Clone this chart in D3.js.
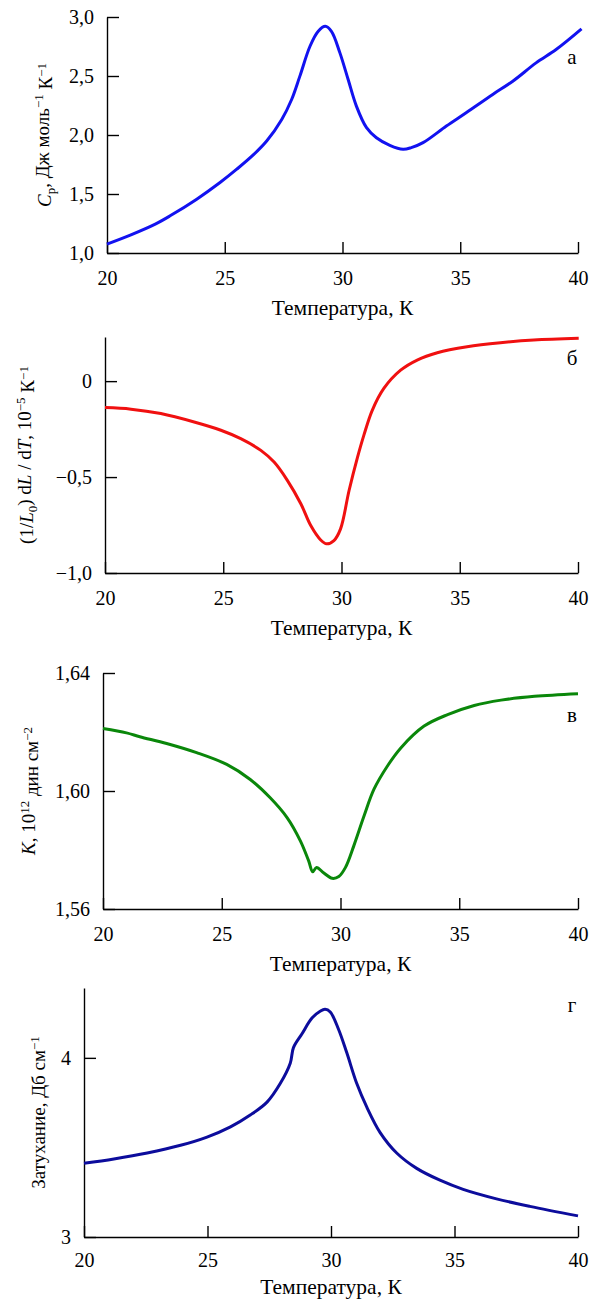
<!DOCTYPE html>
<html>
<head>
<meta charset="utf-8">
<script src="https://cdn.jsdelivr.net/npm/d3@7"></script>
<style>
  body { margin: 0; background: #fff; }
  svg { display: block; }
  svg text { font-family: "Liberation Serif", "Times New Roman", "DejaVu Serif", serif; fill: #000; }
  .axis path, .axis line { stroke: #000; stroke-width: 1.4; }
  .axis text { font-size: 20px; }
</style>
</head>
<body>
<svg id="chart" width="600" height="1302"></svg>
<script>
// temperature grid for each curve (K)
var tempA = [20, 20.99, 22.05, 22.68, 23.81, 24.8, 25.51, 26.21, 26.78, 27.42, 27.84, 28.19, 28.62, 28.97, 29.27, 29.53, 29.89, 30.24, 30.59, 31.02, 31.44, 32.01, 32.57, 32.92, 33.42, 34.41, 35.25, 36.38, 37.23, 38.22, 39.07, 40.15]
var heatCap = [1.076, 1.152, 1.245, 1.315, 1.456, 1.597, 1.71, 1.831, 1.949, 2.132, 2.301, 2.499, 2.752, 2.879, 2.921, 2.879, 2.696, 2.47, 2.245, 2.062, 1.977, 1.913, 1.879, 1.893, 1.935, 2.076, 2.189, 2.344, 2.456, 2.611, 2.724, 2.899]

var tempB = [20, 21.1, 22.36, 23.77, 24.9, 25.74, 26.59, 27.15, 27.71, 28.28, 28.7, 29.12, 29.37, 29.68, 29.96, 30.32, 30.67, 30.95, 31.3, 31.79, 32.5, 33.2, 34.05, 35.31, 36.72, 38.13, 40.03]
var expansion = [-0.138, -0.146, -0.169, -0.213, -0.256, -0.3, -0.361, -0.422, -0.517, -0.639, -0.753, -0.828, -0.848, -0.831, -0.77, -0.57, -0.4, -0.28, -0.152, -0.038, 0.057, 0.11, 0.148, 0.179, 0.2, 0.214, 0.223]

var tempC = [20, 20.99, 21.55, 22.68, 23.94, 25.21, 26.2, 27.04, 27.75, 28.31, 28.66, 28.83, 28.99, 29.3, 29.65, 29.93, 30.21, 30.56, 30.99, 31.41, 31.97, 32.54, 33.52, 34.51, 35.63, 36.76, 38.17, 40]
var modulus = [1.6212, 1.6197, 1.6184, 1.6161, 1.613, 1.609, 1.6039, 1.5977, 1.591, 1.5831, 1.5763, 1.5726, 1.5741, 1.5722, 1.5704, 1.571, 1.5741, 1.5814, 1.5915, 1.6006, 1.6084, 1.6146, 1.622, 1.6259, 1.629, 1.6308, 1.6321, 1.633]

var tempD = [20, 21.21, 22.56, 23.91, 24.98, 25.93, 26.73, 27.41, 27.95, 28.35, 28.48, 28.82, 29.23, 29.56, 29.76, 29.97, 30.3, 30.64, 31.04, 31.45, 31.99, 32.66, 33.47, 34.41, 35.35, 36.7, 38.05, 40]
var damping = [3.412, 3.436, 3.469, 3.512, 3.558, 3.615, 3.681, 3.753, 3.858, 3.97, 4.057, 4.133, 4.222, 4.26, 4.271, 4.256, 4.161, 4.028, 3.858, 3.725, 3.583, 3.469, 3.383, 3.317, 3.266, 3.213, 3.171, 3.118]

var xTicks = [20, 25, 30, 35, 40]
var xTickLabels = ["20", "25", "30", "35", "40"]
var yTicksA = [1, 1.5, 2, 2.5, 3], yLabelsA = ["1,0", "1,5", "2,0", "2,5", "3,0"]
var yTicksB = [-1, -0.5, 0], yLabelsB = ["\u22121,0", "\u22120,5", "0"]
var yTicksC = [1.56, 1.6, 1.64], yLabelsC = ["1,56", "1,60", "1,64"]
var yTicksD = [3, 4], yLabelsD = ["3", "4"]

var svg = d3.select("#chart")

// one panel = left/bottom axes, a curve, a letter and titles
function panel(p) {
    var x = d3.scaleLinear().domain([20, 40]).range([p.left, 578])
    var y = d3.scaleLinear().domain(p.yDomain).range([p.bottom, p.top])
    var g = svg.append("g")

    var xa = g.append("g").attr("class", "axis")
        .attr("transform", "translate(0," + p.bottom + ")")
        .call(d3.axisBottom(x).tickValues(xTicks)
            .tickFormat(function(d, i) { return xTickLabels[i] })
            .tickSizeInner(-11).tickSizeOuter(0).tickPadding(p.tickGap || 18))

    var ya = g.append("g").attr("class", "axis")
        .attr("transform", "translate(" + p.left + ",0)")
        .call(d3.axisLeft(y).tickValues(p.yTicks)
            .tickFormat(function(d, i) { return p.yLabels[i] })
            .tickSizeInner(-12).tickSizeOuter(0).tickPadding(13))
    ya.selectAll("text").attr("dy", "0.34em")
    xa.attr("font-family", null); ya.attr("font-family", null)

    var line = d3.line()
        .x(function(d) { return x(d[0]) })
        .y(function(d) { return y(d[1]) })
        .curve(d3.curveCatmullRom.alpha(0.5))

    g.append("path")
        .datum(d3.zip(p.temps, p.values))
        .attr("fill", "none")
        .attr("stroke", p.color)
        .attr("stroke-width", 3)
        .attr("stroke-linejoin", "round")
        .attr("d", line)

    g.append("text")
        .attr("x", 572).attr("y", p.letterY)
        .attr("text-anchor", "middle")
        .style("font-size", "21px")
        .text(p.letter)

    g.append("text")
        .attr("x", (p.left + 578) / 2).attr("y", p.bottom + (p.titleGap || 62))
        .attr("text-anchor", "middle")
        .style("font-size", "21.5px")
        .text("Температура, К")

    var lab = g.append("text")
        .attr("transform", "translate(" + p.labelX + "," + (p.top + p.bottom) / 2 + ") rotate(-90)")
        .attr("text-anchor", "middle")
        .style("font-size", "19px")
    p.label.forEach(function(s) {
        var t = lab.append("tspan").text(s.t)
        if (s.i) t.style("font-style", "italic")
        if (s.sup) t.attr("dy", "-0.45em").style("font-size", "13px")
        if (s.sub) t.attr("dy", "0.3em").style("font-size", "13px")
        if (s.back) t.attr("dy", s.back)
    })
}

panel({
    left: 107, top: 17, bottom: 253, yDomain: [1, 3],
    yTicks: yTicksA, yLabels: yLabelsA,
    temps: tempA, values: heatCap, color: "#1212f0",
    letter: "а", letterY: 64, labelX: 51,
    label: [{t: "C", i: true}, {t: "p", sub: true}, {t: ", ", back: "-0.3em"}, {t: "Дж моль"},
            {t: "\u22121", sup: true}, {t: " К", back: "0.45em"}, {t: "\u22121", sup: true}]
})

panel({
    left: 105, top: 337, bottom: 573, yDomain: [-1, 0.23],
    yTicks: yTicksB, yLabels: yLabelsB,
    temps: tempB, values: expansion, color: "#f01010",
    letter: "б", letterY: 365, labelX: 33,
    label: [{t: "(1/"}, {t: "L", i: true}, {t: "0", sub: true}, {t: ") d", back: "-0.3em"}, {t: "L", i: true},
            {t: " / d"}, {t: "T", i: true}, {t: ", 10"}, {t: "\u22125", sup: true},
            {t: " К", back: "0.45em"}, {t: "\u22121", sup: true}]
})

panel({
    left: 103, top: 673, bottom: 909, yDomain: [1.56, 1.64],
    yTicks: yTicksC, yLabels: yLabelsC,
    temps: tempC, values: modulus, color: "#0a870a",
    letter: "в", letterY: 722, labelX: 35,
    label: [{t: "K", i: true}, {t: ", 10"}, {t: "12", sup: true}, {t: " дин см", back: "0.45em"},
            {t: "\u22122", sup: true}]
})

panel({
    left: 84, top: 988, bottom: 1237, yDomain: [3, 4.39],
    yTicks: yTicksD, yLabels: yLabelsD,
    temps: tempD, values: damping, color: "#0c0c9c",
    letter: "г", letterY: 1012, labelX: 45, tickGap: 16, titleGap: 57,
    label: [{t: "Затухание, Дб см"}, {t: "\u22121", sup: true}]
})
</script>
</body>
</html>
